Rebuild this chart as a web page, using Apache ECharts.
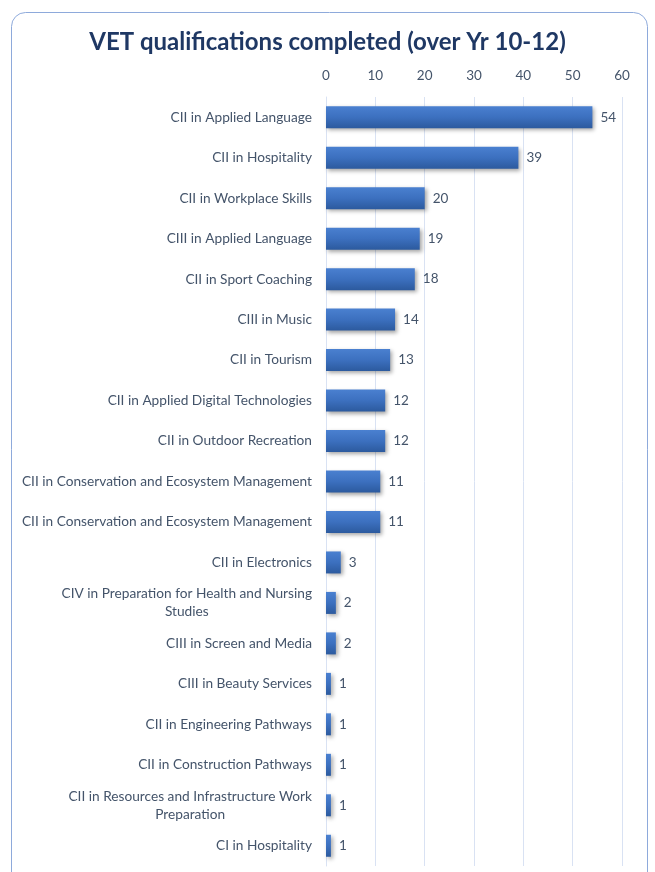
<!DOCTYPE html>
<html lang="en">
<head>
    <meta charset="UTF-8">
    <title>VET qualifications completed</title>
    <style>
        html, body { margin: 0; padding: 0; background: #fff; }
        #chart { width: 655px; height: 872px; }
    </style>
</head>
<body>
<div id="chart"></div>
<script src="https://cdn.jsdelivr.net/npm/echarts@6/dist/echarts.min.js"></script>
<script>
    const categories = [
        'CII in Applied Language',
        'CII in Hospitality',
        'CII in Workplace Skills',
        'CIII in Applied Language',
        'CII in Sport Coaching',
        'CIII in Music',
        'CII in Tourism',
        'CII in Applied Digital Technologies',
        'CII in Outdoor Recreation',
        'CII in Conservation and Ecosystem Management',
        'CII in Conservation and Ecosystem Management',
        'CII in Electronics',
        'CIV in Preparation for Health and Nursing\nStudies',
        'CIII in Screen and Media',
        'CIII in Beauty Services',
        'CII in Engineering Pathways',
        'CII in Construction Pathways',
        'CII in Resources and Infrastructure Work\nPreparation',
        'CI in Hospitality'
    ];
    const completed = [54, 39, 20, 19, 18, 14, 13, 12, 12, 11, 11, 3, 2, 2, 1, 1, 1, 1, 1];
    const axisTicks = [0, 10, 20, 30, 40, 50, 60];

    const textColor = '#44546A';
    const font = 'Lato, "Open Sans", sans-serif';

    const chart = echarts.init(document.getElementById('chart'));
    chart.setOption({
        animation: false,
        graphic: [{
            type: 'rect',
            shape: { x: 11.5, y: 12.5, width: 636, height: 900, r: 14 },
            style: { fill: 'none', stroke: '#8eaadb', lineWidth: 1 },
            z: -1
        }],
        title: {
            text: 'VET qualifications completed (over Yr 10-12)',
            left: 'center',
            top: 25,
            textStyle: { fontFamily: font, fontSize: 24, fontWeight: 'bold', color: '#1F3864' }
        },
        grid: { left: 326, right: 33, top: 97, bottom: 6, containLabel: false },
        xAxis: {
            type: 'value',
            position: 'top',
            min: axisTicks[0],
            max: axisTicks[axisTicks.length - 1],
            interval: 10,
            axisLine: { show: false },
            axisTick: { show: false },
            axisLabel: { color: textColor, fontFamily: font, fontSize: 13.5, margin: 14 },
            splitLine: { lineStyle: { color: '#d9e2f3', width: 1 } }
        },
        yAxis: {
            type: 'category',
            inverse: true,
            data: categories,
            axisLine: { show: true, lineStyle: { color: '#d9e2f3' } },
            axisTick: { show: false },
            axisLabel: {
                color: textColor, fontFamily: font, fontSize: 13.7, margin: 14,
                lineHeight: 18, align: 'right',
                formatter: v => v.split('\n').map(s => '{c|' + s + '}').join('\n'),
                rich: {
                    c: { align: 'center', color: textColor, fontFamily: font, fontSize: 13.7, lineHeight: 18 }
                }
            }
        },
        series: [{
            type: 'bar',
            data: completed,
            barWidth: 22,
            itemStyle: {
                color: new echarts.graphic.LinearGradient(0, 0, 0, 1, [
                    { offset: 0, color: '#4a80d0' },
                    { offset: 0.5, color: '#3c70bf' },
                    { offset: 1, color: '#2c5a9e' }
                ]),
                shadowColor: 'rgba(0,0,0,0.35)',
                shadowBlur: 4,
                shadowOffsetX: 2,
                shadowOffsetY: 2
            },
            label: {
                show: true,
                position: 'right',
                distance: 8,
                color: textColor,
                fontFamily: font,
                fontSize: 13.5
            }
        }]
    });
</script>
</body>
</html>
